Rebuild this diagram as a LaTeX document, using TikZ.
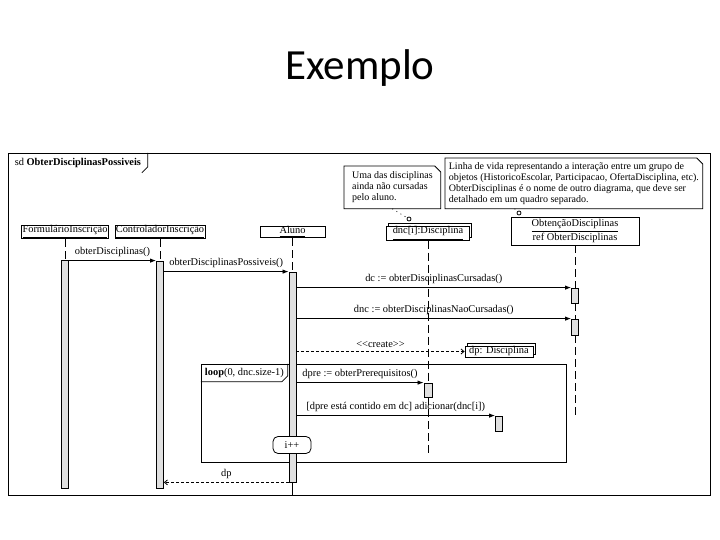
\documentclass[tikz,border=0pt]{standalone}
\usepackage{fontspec}
\setmainfont{Liberation Serif}
\newfontfamily\fontetitulo{Carlito}
\usetikzlibrary{arrows.meta,positioning,shadows,calc}
\definecolor{barraativa}{RGB}{224,224,224}
\newcommand{\letradiagrama}{\fontsize{5.2}{6}\selectfont}
\tikzset{
  objeto/.style={rectangle, draw=black, fill=white, inner sep=0pt, minimum height=5pt, font=\letradiagrama},
  multiobjeto/.style={objeto, copy shadow={shadow xshift=1pt, shadow yshift=1.5pt, draw=black, fill=white, opacity=1}},
  ativacao/.style={rectangle, draw=black, fill=barraativa, inner sep=0pt, minimum width=3.5pt},
  vida/.style={dash pattern=on 4pt off 2pt},
  chamada/.style={-{Latex[length=3pt, width=2.2pt]}},
  resposta/.style={dash pattern=on 1.5pt off 1pt, -{Straight Barb[length=1.5pt, width=2.5pt]}},
  rotulo/.style={font=\letradiagrama, above, inner sep=1.5pt},
  nota/.style={font=\fontsize{5}{5.5}\selectfont, align=left, inner sep=0pt, anchor=north west},
  ancora/.style={circle, draw=black, fill=white, inner sep=0pt, minimum size=2pt},
}

\begin{document}
\begin{tikzpicture}[x=0.5pt, y=-0.5pt, font=\letradiagrama]
\useasboundingbox (0,0) rectangle (720,540);
\fill[white] (0,0) rectangle (720,540);
\node[font=\fontetitulo\fontsize{21.5}{26}\selectfont] (titulo) at (360,68) {Exemplo};

% quadro sd
\draw (8,153) rectangle (710,495);
\node[anchor=north west, minimum width=69.5pt, minimum height=9.5pt, inner sep=0pt] (sd) at (8,153) {sd \textbf{ObterDisciplinasPossiveis}};
\draw (sd.north east) -- ($(sd.south east)+(0,-6)$) -- ($(sd.south east)+(-6,0)$);

% notas
\node[nota, minimum width=48pt, minimum height=21pt] (nota1) at (344,166) {Uma das disciplinas\\ainda não cursadas\\pelo aluno.};
\draw (nota1.north west) -- ($(nota1.north east)+(-6,0)$) -- ($(nota1.north east)+(0,6)$) -- (nota1.south east) -- (nota1.south west) -- cycle;
\node[nota, minimum width=128.5pt, minimum height=25pt] (nota2) at (445,158) {Linha de vida representando a interação entre um grupo de\\objetos (HistoricoEscolar, Participacao, OfertaDisciplina, etc).\\ObterDisciplinas é o nome de outro diagrama, que deve ser\\detalhado em um quadro separado.};
\draw (nota2.north west) -- ($(nota2.north east)+(-6,0)$) -- ($(nota2.north east)+(0,6)$) -- (nota2.south east) -- (nota2.south west) -- cycle;

% objetos
\node[objeto, minimum width=43.5pt] (form) at (65,232) {\underline{FormulárioInscrição}};
\node[objeto, minimum width=45pt] (ctrl) at (160,232) {\underline{ControladorInscrição}};
\node[objeto, minimum width=32.5pt] (aluno) at (292.5,232) {\underline{Aluno}};
\node[multiobjeto, minimum width=41.5pt] (dnc) at (428,233.5) {\underline{dnc[i]:Disciplina}};
\node[objeto, minimum width=64pt, minimum height=14pt, align=center, font=\fontsize{5.2}{7}\selectfont] (obt) at (575,231) {\underline{ObtençãoDisciplinas}\\ref ObterDisciplinas};
\node[multiobjeto, minimum width=34pt, minimum height=5.5pt] (dp) at (499,351.5) {dp: Disciplina};

\node[ancora] (anc1) at (409,219) {};
\node[ancora] (anc2) at (519,213) {};
\draw[dotted] ($(nota1.south west)!0.5!(nota1.south east)$) -- (anc1);
\draw[dotted] ($(nota2.south west)!0.27!(nota2.south east)$) -- (anc2);

% loop
\draw (201,364) rectangle (566,462);
\node[anchor=north west, minimum width=43pt, minimum height=8.5pt, inner sep=0pt] (laco) at (201,364) {\textbf{loop}(0, dnc.size-1)};
\draw (laco.north east) -- ($(laco.south east)+(0,-6)$) -- ($(laco.south east)+(-6,0)$) -- (laco.south west);

% ativacoes
\node[ativacao, minimum height=114pt] (fbar) at (65,374) {};
\node[ativacao, minimum height=113.5pt] (cbar) at (160,374.5) {};
\node[ativacao, minimum height=105pt] (abar) at (292.5,377) {};
\node[ativacao, minimum width=4pt, minimum height=7pt] (dbar) at (428,390) {};
\node[ativacao, minimum height=7.5pt] (pbar) at (499,423.5) {};
\node[ativacao, minimum height=7.5pt] (obar1) at (575,295.5) {};
\node[ativacao, minimum height=8pt] (obar2) at (575,327) {};

% linhas de vida
\coordinate (dncfim) at (428,456);
\coordinate (obtfim) at (575,416);
\coordinate (alunofim) at (292.5,495);
\draw[vida] (form) -- (fbar);
\draw[vida] (ctrl) -- (cbar);
\draw[vida] (aluno) -- (abar);
\draw[vida] (dnc) -- (dbar);
\draw[vida] (dbar) -- (dncfim);
\draw[vida] (obt) -- (obar1);
\draw[vida] (obar1) -- (obar2);
\draw[vida] (obar2) -- (obtfim);
\draw (abar) -- (alunofim);

% mensagens
\draw[chamada] (fbar.east |- cbar.north) -- node[rotulo] {obterDisciplinas()} (cbar.north west);
\draw[chamada] (cbar.east |- abar.north) -- node[rotulo] {obterDisciplinasPossiveis()} (abar.north west);
\draw[chamada] (abar.east |- obar1.north) -- node[rotulo] {dc := obterDisciplinasCursadas()} (obar1.north west);
\draw[chamada] (abar.east |- obar2.north) -- node[rotulo] {dnc := obterDisciplinasNaoCursadas()} (obar2.north west);
\draw[resposta] (abar.east |- dp.west) -- node[rotulo] {{<}{<}create{>}{>}} (dp.west);
\draw[chamada] (abar.east |- dbar.north) -- node[rotulo] {dpre := obterPrerequisitos()} (dbar.north west);
\draw[chamada] (abar.east |- pbar.north) -- node[rotulo] {[dpre está contido em dc] adicionar(dnc[i])} (pbar.north west);
\node[draw, fill=white, rounded corners=2.5pt, minimum width=19pt, minimum height=8.5pt, inner sep=0pt] (incremento) at (292,445) {i++};
\draw[resposta] (abar.south west) -- node[rotulo] {dp} (cbar.east |- abar.south);
\end{tikzpicture}
\end{document}
